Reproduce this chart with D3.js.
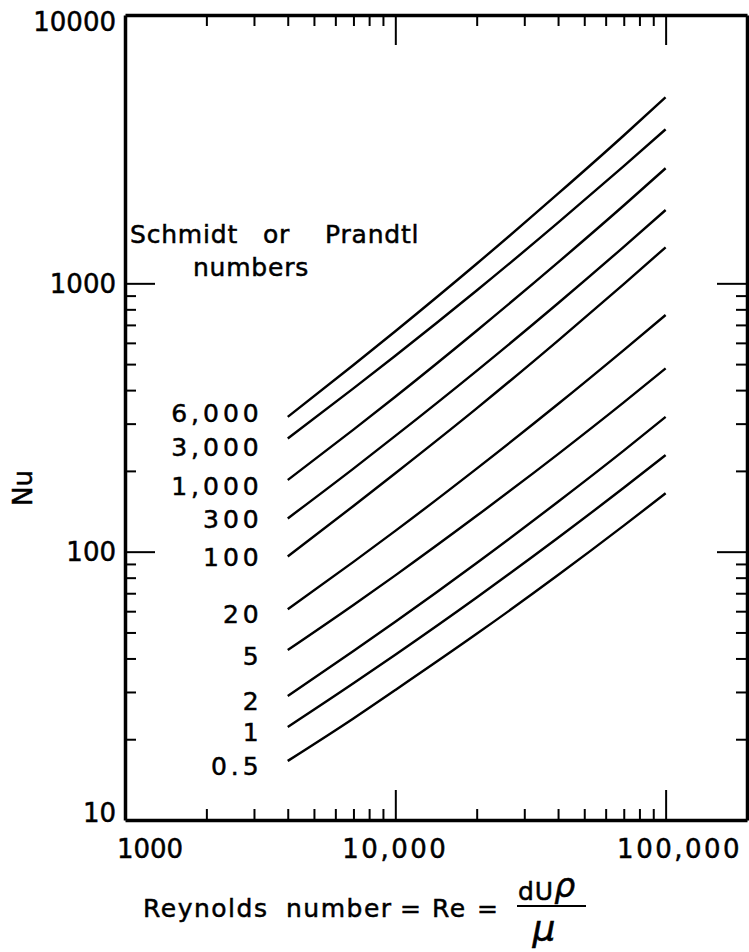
<!DOCTYPE html>
<html lang="en">
<head>
<meta charset="UTF-8">
<title>Nu vs Reynolds number</title>
<script src="https://d3js.org/d3.v7.min.js"></script>
<style>
    body { margin: 0; background: #fff; }
    svg { display: block; }
    text { font-family: 'DejaVu Sans', sans-serif; fill: #000; stroke: #000; stroke-width: 0.5px; }
    .frame path.domain { stroke: #000; stroke-width: 3.5px; }
    .frame line { stroke: #000; stroke-width: 2px; }
    .curve { fill: none; stroke: #000; stroke-width: 2.4px; }
</style>
</head>
<body>
<svg id="chart" width="749" height="952"></svg>
<script>
const reynolds = [4000, 7000, 10000, 20000, 40000, 70000, 100000];

// Nu values, one array per Schmidt / Prandtl number
const nu6000 = [318, 496, 663, 1183, 2158, 3556, 4935];
const nu3000 = [264, 406, 537, 940, 1683, 2733, 3750];
const nu1000 = [185, 285, 378, 666, 1197, 1950, 2685];
const nu300  = [133, 204, 270, 472, 843, 1368, 1876];
const nu100  = [96, 148, 196, 342, 612, 994, 1362];
const nu20   = [61, 91.6, 119.5, 204, 355, 564, 762];
const nu5    = [43, 63.3, 81.6, 136, 231, 360, 482];
const nu2    = [29, 42.6, 54.8, 90.8, 153.5, 238, 318];
const nu1    = [22.2, 32.3, 41.3, 67.5, 112.7, 173, 229];
const nu05   = [16.6, 23.9, 30.5, 49.4, 81.8, 125, 165];

const curveLabels = ["6,000", "3,000", "1,000", "300", "100", "20", "5", "2", "1", "0.5"];
const curveValues = [nu6000, nu3000, nu1000, nu300, nu100, nu20, nu5, nu2, nu1, nu05];
// vertical nudge of each label against its curve start
const labelNudge = [-4, 8, 6, 1, 1, 5, 6, 5, 5, 5];

const xMajor = [1000, 10000, 100000];
const xMajorLabels = ["1000", "10,000", "100,000"];
const yMajor = [10, 100, 1000, 10000];
const yMajorLabels = ["10", "100", "1000", "10000"];

const svg = d3.select("#chart");
const mLeft = 125, mRight = 747, mTop = 15, mBottom = 820;

const x = d3.scaleLog().domain([1000, 200000]).range([mLeft, mRight]);
const y = d3.scaleLog().domain([10, 10000]).range([mBottom, mTop]);

// minor ticks 2..9 in each decade
const minorTicks = (lo, hi) => {
    const out = [];
    for (let d = lo; d < hi; d *= 10)
        for (let k = 2; k <= 9; k++) out.push(d * k);
    return out;
};
const xMinor = minorTicks(1000, 100000);
const yMinor = minorTicks(10, 1000);

// frame: four axes with inward ticks
function addAxis(axisFn, scale, transform, values, size, drawDomain) {
    const g = svg.append("g").attr("class", "frame").attr("transform", transform)
        .call(axisFn(scale).tickValues(values).tickSize(size).tickSizeOuter(0).tickFormat(""));
    if (!drawDomain) g.select("path.domain").remove();
    return g;
}

addAxis(d3.axisBottom, x, `translate(0,${mBottom})`, xMinor, -11, true);
addAxis(d3.axisBottom, x, `translate(0,${mBottom})`, xMajor.slice(1), -30, false);
addAxis(d3.axisTop, x, `translate(0,${mTop})`, xMinor, -11, true);
addAxis(d3.axisTop, x, `translate(0,${mTop})`, xMajor.slice(1), -30, false);
addAxis(d3.axisLeft, y, `translate(${mLeft},0)`, yMinor, -11, true);
addAxis(d3.axisLeft, y, `translate(${mLeft},0)`, yMajor.slice(1, 3), -30, false);
addAxis(d3.axisRight, y, `translate(${mRight},0)`, yMinor, -11, true);
addAxis(d3.axisRight, y, `translate(${mRight},0)`, yMajor.slice(1, 3), -30, false);

// x tick labels
const xLabelShift = [25, 0, 14];
svg.append("g").selectAll("text")
    .data(xMajor)
    .join("text")
    .attr("x", (d, i) => x(d) + xLabelShift[i])
    .attr("y", 858)
    .attr("text-anchor", "middle")
    .attr("font-size", 26)
    .attr("letter-spacing", (d, i) => i === 0 ? 0 : 2.5)
    .text((d, i) => xMajorLabels[i]);

// y tick labels
const yLabelShift = [-7, 0, 0, 7];
svg.append("g").selectAll("text")
    .data(yMajor)
    .join("text")
    .attr("x", mLeft - 9)
    .attr("y", (d, i) => y(d) + yLabelShift[i])
    .attr("dy", "0.36em")
    .attr("text-anchor", "end")
    .attr("font-size", 26)
    .text((d, i) => yMajorLabels[i]);

// curves
const line = d3.line()
    .x(d => x(d[0]))
    .y(d => y(d[1]))
    .curve(d3.curveMonotoneX);

svg.append("g").selectAll("path")
    .data(curveValues)
    .join("path")
    .attr("class", "curve")
    .attr("d", vals => line(reynolds.map((r, i) => [r, vals[i]])));

// curve labels, left of each curve start
svg.append("g").selectAll("text")
    .data(curveValues)
    .join("text")
    .attr("x", x(reynolds[0]) - 25)
    .attr("y", (vals, i) => y(vals[0]) + labelNudge[i])
    .attr("dy", "0.36em")
    .attr("text-anchor", "end")
    .attr("font-size", 25)
    .attr("letter-spacing", 4)
    .text((d, i) => curveLabels[i]);

// legend heading
const head = svg.append("text")
    .attr("font-size", 25)
    .attr("letter-spacing", 0.8);
head.append("tspan").attr("x", 130).attr("y", 243).text("Schmidt");
head.append("tspan").attr("x", 263).attr("y", 243).text("or");
head.append("tspan").attr("x", 325).attr("y", 243).text("Prandtl");
head.append("tspan").attr("x", 251).attr("y", 276).attr("text-anchor", "middle").text("numbers");

// y title
svg.append("text")
    .attr("transform", "translate(32,488) rotate(-90)")
    .attr("text-anchor", "middle")
    .attr("font-size", 26)
    .text("Nu");

// x title with fraction
const title = svg.append("text")
    .attr("y", 917)
    .attr("font-size", 25)
    .attr("letter-spacing", 1.5);
title.append("tspan").attr("x", 143).text("Reynolds");
title.append("tspan").attr("x", 286).text("number");
title.append("tspan").attr("x", 400).text("=");
title.append("tspan").attr("x", 432).text("Re");
title.append("tspan").attr("x", 477).text("=");

const frac = svg.append("text").attr("x", 518).attr("y", 900).attr("font-size", 25);
frac.append("tspan").attr("letter-spacing", 1).text("dU");
frac.append("tspan").attr("font-style", "italic").attr("font-size", 33).attr("dy", -3).text("\u03C1");

svg.append("line")
    .attr("x1", 517).attr("x2", 586)
    .attr("y1", 906).attr("y2", 906)
    .attr("stroke", "#000").attr("stroke-width", 2);

svg.append("text")
    .attr("x", 544)
    .attr("y", 941)
    .attr("text-anchor", "middle")
    .attr("font-size", 36)
    .attr("font-style", "italic")
    .text("\u03BC");
</script>
</body>
</html>
